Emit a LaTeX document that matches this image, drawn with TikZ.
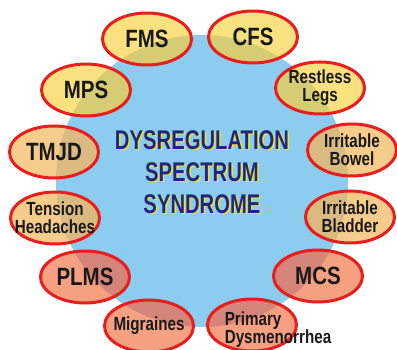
\documentclass[tikz,border=0pt]{standalone}
\usepackage{fontspec}
\newfontfamily\tagfont[FakeStretch=0.82]{Liberation Sans}
\newfontfamily\notefont[FakeStretch=0.8]{Liberation Sans}
\newfontfamily\hubfont[FakeStretch=0.75]{Liberation Sans}
\usetikzlibrary{shapes.geometric}

\definecolor{hubblue}{RGB}{140,204,238}
\definecolor{rimred}{RGB}{232,30,30}
\definecolor{ylo}{RGB}{249,225,128}
\definecolor{ylodark}{RGB}{214,204,116}
\definecolor{peach}{RGB}{246,204,140}
\definecolor{peachdark}{RGB}{218,186,128}
\definecolor{salmon}{RGB}{246,160,130}
\definecolor{salmondark}{RGB}{212,132,120}
\definecolor{navy}{RGB}{30,40,130}
\definecolor{glow}{RGB}{240,226,40}

\begin{document}
\begin{tikzpicture}[
    x=1pt, y=-1pt,
    spot/.style={ellipse, draw=rimred, line width=3pt,
                 minimum width=89pt, minimum height=52pt, inner sep=0pt},
    sunny/.style={spot, fill=ylo,
                  path picture={\fill[ylodark] (hub.center) circle[radius=146pt];}},
    peachy/.style={spot, fill=peach,
                   path picture={\fill[peachdark] (hub.center) circle[radius=146pt];}},
    rosy/.style={spot, fill=salmon,
                 path picture={\fill[salmondark] (hub.center) circle[radius=146pt];}},
    big/.style={text=black!90, font=\tagfont\bfseries\fontsize{25}{25}\selectfont},
    small/.style={text=black!90, align=center,
                  font=\notefont\bfseries\fontsize{19}{18}\selectfont},
    headline/.style={align=center, font=\hubfont\bfseries\fontsize{27}{32}\selectfont},
]
  \useasboundingbox[fill=white] (0,0) rectangle (397,350);

  \node[circle, fill=hubblue, minimum size=292pt, inner sep=0pt] (hub) at (202,181) {};

  \node[sunny, label={[big]center:FMS}]                  (fms)      at (147,39)  {};
  \node[sunny, label={[big]center:CFS}]                  (cfs)      at (253,37)  {};
  \node[sunny, label={[big]center:MPS}]                  (mps)      at (86,90)   {};
  \node[sunny, label={[small]center:Restless\\Legs}]     (legs)     at (320,88)  {};
  \node[peachy, label={[big]center:TMJD}]                (tmjd)     at (54,152)  {};
  \node[peachy, label={[small]center:Irritable\\Bowel}]  (bowel)    at (352,150) {};
  \node[peachy, label={[small]center:Tension\\Headaches}] (tension) at (55,218)  {};
  \node[peachy, label={[small]center:Irritable\\Bladder}] (bladder) at (350,217) {};
  \node[rosy, label={[big]center:PLMS}]                  (plms)     at (85,277)  {};
  \node[rosy, label={[big]center:MCS}]                   (mcs)      at (318,276) {};
  \node[rosy, label={[small]center:Migraines}]           (migraine) at (149,326) {};
  \node[rosy, label={[small, align=left, xshift=26pt, yshift=-5pt]center:Primary\\Dysmenorrhea}]
                                                         (dysmen)   at (252,325) {};

  \node[headline, text=glow] (titleglow) at (203.5,173.5) {DYSREGULATION\\SPECTRUM\\SYNDROME};
  \node[headline, text=navy] (title)     at (202,172)     {DYSREGULATION\\SPECTRUM\\SYNDROME};
\end{tikzpicture}
\end{document}
